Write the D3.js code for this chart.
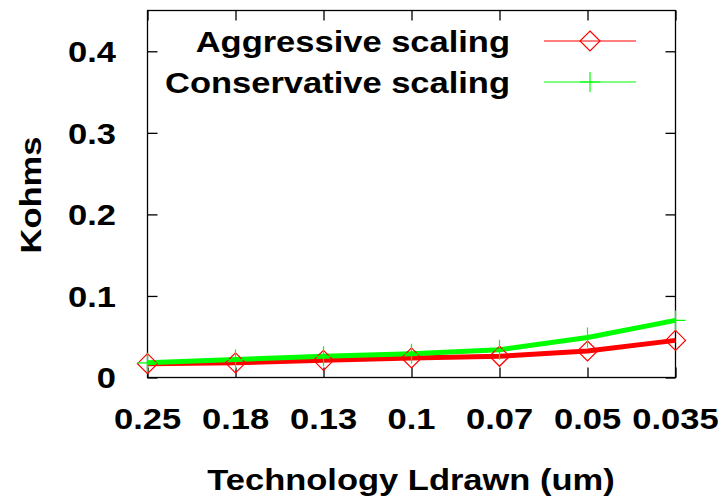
<!DOCTYPE html>
<html>
<head>
<meta charset="utf-8">
<script src="https://cdn.jsdelivr.net/npm/d3@7"></script>
<style>
  html, body { margin: 0; padding: 0; background: #fff; }
  svg { display: block; }
  text { font-family: "Liberation Sans", Arial, Helvetica, sans-serif; font-weight: bold; fill: #000; }
</style>
</head>
<body>
<svg id="chart" width="721" height="502"></svg>
<script>
const categories = ["0.25", "0.18", "0.13", "0.1", "0.07", "0.05", "0.035"];
const aggressive = [0.017, 0.018, 0.021, 0.024, 0.026, 0.0325, 0.0455];
const conservative = [0.018, 0.022, 0.026, 0.029, 0.034, 0.049, 0.070];
const yTicks = [0, 0.1, 0.2, 0.3, 0.4];
const yTickLabels = ["0", "0.1", "0.2", "0.3", "0.4"];
const seriesNames = ["Aggressive scaling", "Conservative scaling"];
const seriesColors = ["#ff0000", "#00ff00"];

(function () {
const svg = d3.select("#chart");
const pL = 147.5, pR = 675.5, pT = 10.5, pB = 377.5;
const fs = 30, sx = 1.15;

const x = d3.scalePoint().domain(categories).range([pL, pR]);
const y = d3.scaleLinear().domain([0, 0.45]).range([pB, pT]);

function label(g, tx, ty, anchor, str, rot) {
  return g.append("text")
    .attr("transform", `translate(${tx},${ty})${rot ? " rotate(" + rot + ")" : ""} scale(${sx},1)`)
    .attr("dy", "0.36em").attr("text-anchor", anchor).attr("font-size", fs)
    .text(str);
}

// frame
svg.append("rect").attr("x", pL).attr("y", pT)
  .attr("width", pR - pL).attr("height", pB - pT)
  .attr("fill", "none").attr("stroke", "#000").attr("stroke-width", 1.3);

// y axis ticks (left and mirrored right)
svg.append("g").attr("transform", `translate(${pL},0)`)
  .call(d3.axisLeft(y).tickValues(yTicks).tickSize(-10).tickFormat(""))
  .call(g => g.select(".domain").remove());
svg.append("g").attr("transform", `translate(${pR},0)`)
  .call(d3.axisRight(y).tickValues(yTicks).tickSize(-10).tickFormat(""))
  .call(g => g.select(".domain").remove());
// x ticks (bottom and mirrored top)
svg.append("g").attr("transform", `translate(0,${pB})`)
  .call(d3.axisBottom(x).tickSize(-10).tickFormat(""))
  .call(g => g.select(".domain").remove());
svg.append("g").attr("transform", `translate(0,${pT})`)
  .call(d3.axisTop(x).tickSize(-10).tickFormat(""))
  .call(g => g.select(".domain").remove());
svg.selectAll(".tick line").attr("stroke", "#000").attr("stroke-width", 1.3);

// y tick labels
const gy = svg.append("g");
yTicks.forEach((d, i) => label(gy, 116, y(d), "end", yTickLabels[i]));

// x tick labels
const gx = svg.append("g");
categories.forEach(c => label(gx, x(c), 418, "middle", c));

// axis titles
label(svg, 411, 479.5, "middle", "Technology Ldrawn (um)");
label(svg, 30, 195, "middle", "Kohms", -90);

const series = [aggressive, conservative];
const line = d3.line().x((d, i) => x(categories[i])).y(d => y(d));

// thick lines
series.forEach((s, k) => {
  svg.append("path").datum(s).attr("d", line)
    .attr("fill", "none").attr("stroke", seriesColors[k]).attr("stroke-width", 5)
    .attr("stroke-linejoin", "round");
});

const diamond = (cx, cy, r) => `M${cx},${cy - r}L${cx + r},${cy}L${cx},${cy + r}L${cx - r},${cy}Z`;
const plus = (cx, cy, r) => `M${cx - r},${cy}L${cx + r},${cy}M${cx},${cy - r}L${cx},${cy + r}`;

// markers
svg.append("g").selectAll("path").data(aggressive).join("path")
  .attr("d", (d, i) => diamond(x(categories[i]), y(d), 10))
  .attr("fill", "none").attr("stroke", seriesColors[0]).attr("stroke-width", 1.2);
svg.append("g").selectAll("path").data(conservative).join("path")
  .attr("d", (d, i) => plus(x(categories[i]), y(d), 10))
  .attr("fill", "none").attr("stroke", seriesColors[1]).attr("stroke-width", 1.2);

// legend
const legendY = [41, 82];
seriesNames.forEach((name, k) => {
  const ly = legendY[k];
  label(svg, 510, ly, "end", name);
  svg.append("line").attr("x1", 544).attr("x2", 636).attr("y1", ly).attr("y2", ly)
    .attr("stroke", seriesColors[k]).attr("stroke-width", 1.2);
  svg.append("path").attr("d", k === 0 ? diamond(590, ly, 10) : plus(590, ly, 10))
    .attr("fill", "none").attr("stroke", seriesColors[k]).attr("stroke-width", 1.2);
});
})();
</script>
</body>
</html>
